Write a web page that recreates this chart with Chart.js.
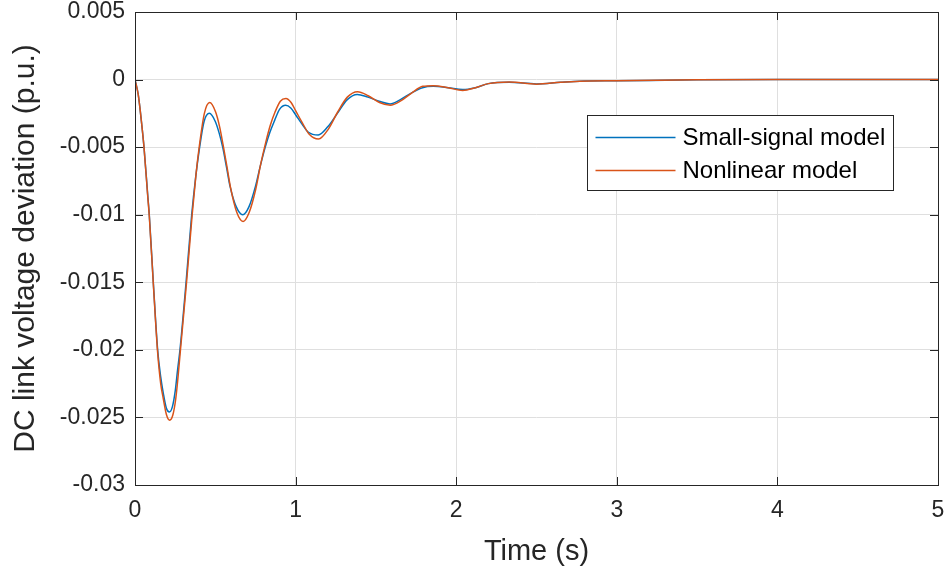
<!DOCTYPE html>
<html>
<head>
<meta charset="utf-8">
<script src="https://cdn.jsdelivr.net/npm/chart.js@4/dist/chart.umd.min.js"></script>
<style>
  html, body { margin: 0; padding: 0; background: #ffffff; }
  #wrap { width: 948px; height: 574px; }
</style>
</head>
<body>
<div id="wrap"><canvas id="c" width="948" height="574"></canvas></div>
<script>
// Time samples (s) and DC link voltage deviation (p.u.) for each model
const timeSmall = [0, 0.02, 0.04, 0.056, 0.079, 0.089, 0.114, 0.141, 0.16, 0.176, 0.195, 0.214, 0.233, 0.251, 0.265, 0.28,
  0.318, 0.353, 0.378, 0.40, 0.43, 0.463, 0.50, 0.525, 0.546, 0.57, 0.592, 0.63, 0.671, 0.71, 0.75, 0.78, 0.811, 0.84, 0.87,
  0.90, 0.938, 0.97, 1.0, 1.04, 1.08, 1.141, 1.2, 1.26, 1.32, 1.384, 1.45, 1.52, 1.588, 1.65, 1.72, 1.79, 1.857, 1.95, 2.04,
  2.12, 2.2, 2.33, 2.5, 2.65, 2.77, 3.0, 3.5, 4.0, 5.0];
const devSmall = [0, -0.0011, -0.0031, -0.005, -0.0085, -0.01, -0.015, -0.02, -0.022, -0.0232, -0.0243, -0.0246, -0.0242, -0.023, -0.0215, -0.02,
  -0.015, -0.01, -0.0072, -0.0052, -0.0031, -0.0025, -0.0031, -0.004, -0.005, -0.0065, -0.0079, -0.0094, -0.01, -0.0094, -0.0079, -0.0064, -0.005, -0.0039, -0.003,
  -0.0022, -0.0019, -0.0021, -0.0026, -0.0033, -0.0039, -0.0041, -0.0035, -0.0025, -0.0015, -0.0011, -0.0013, -0.0016, -0.0018, -0.0015, -0.001, -0.0006, -0.0005, -0.0006, -0.00074,
  -0.0006, -0.0003, -0.0002, -0.00032, -0.0002, -0.00012, -0.00009, -0.00002, 0, 0];

const timeNonlin = [0, 0.02, 0.04, 0.056, 0.079, 0.089, 0.114, 0.141, 0.16, 0.176, 0.196, 0.216, 0.236, 0.254, 0.268, 0.283,
  0.321, 0.356, 0.38, 0.402, 0.432, 0.465, 0.502, 0.527, 0.548, 0.572, 0.595, 0.633, 0.673, 0.712, 0.752, 0.782, 0.813, 0.842, 0.872,
  0.905, 0.94, 0.972, 1.0, 1.042, 1.082, 1.143, 1.202, 1.262, 1.322, 1.386, 1.452, 1.522, 1.59, 1.652, 1.722, 1.792, 1.857, 1.95, 2.04,
  2.12, 2.2, 2.33, 2.5, 2.65, 2.77, 3.0, 3.5, 4.0, 5.0];
const devNonlin = [0, -0.0011, -0.0031, -0.005, -0.0086, -0.0101, -0.0151, -0.0202, -0.0225, -0.0236, -0.0248, -0.0252, -0.0248, -0.0236, -0.022, -0.02,
  -0.015, -0.01, -0.007, -0.0048, -0.0025, -0.0017, -0.0024, -0.0035, -0.0048, -0.0064, -0.008, -0.0098, -0.0105, -0.0098, -0.0081, -0.0063, -0.0047, -0.0034, -0.0024,
  -0.0016, -0.0014, -0.0017, -0.0023, -0.0032, -0.004, -0.0044, -0.0037, -0.0024, -0.0013, -0.0009, -0.0012, -0.0017, -0.0019, -0.0016, -0.001, -0.0005, -0.00045, -0.0006, -0.0008,
  -0.0006, -0.0003, -0.00018, -0.00034, -0.0002, -0.00012, -0.00008, -0.00002, 0, 0];

const seriesNames = ['Small-signal model', 'Nonlinear model'];
const xTicks = [0, 1, 2, 3, 4, 5];
const yTicks = [0.005, 0, -0.005, -0.01, -0.015, -0.02, -0.025, -0.03];
const yTickLabels = ['0.005', '0', '-0.005', '-0.01', '-0.015', '-0.02', '-0.025', '-0.03'];

const BLUE = '#0072BD';
const ORANGE = '#D95319';
const AXIS = '#262626';
const FONT = "'Liberation Sans', Arial, Helvetica, sans-serif";

const toPoints = (xs, ys) => xs.map((x, i) => ({ x: x, y: ys[i] }));

// Axes box, inward tick marks and the in-plot legend
const framePlugin = {
  id: 'frame',
  afterDatasetsDraw(chart) {
    const { ctx, chartArea: a, scales } = chart;
    const xs = scales.x, ys = scales.y;
    const tick = 8;
    ctx.save();
    ctx.strokeStyle = AXIS;
    ctx.lineWidth = 1;
    ctx.beginPath();
    xTicks.forEach(v => {
      const px = Math.round(xs.getPixelForValue(v)) + 0.5;
      ctx.moveTo(px, a.bottom); ctx.lineTo(px, a.bottom - tick);
      ctx.moveTo(px, a.top); ctx.lineTo(px, a.top + tick);
    });
    yTicks.forEach(v => {
      const py = Math.round(ys.getPixelForValue(v)) + 0.5;
      ctx.moveTo(a.left, py); ctx.lineTo(a.left + tick, py);
      ctx.moveTo(a.right, py); ctx.lineTo(a.right - tick, py);
    });
    ctx.stroke();
    ctx.strokeRect(Math.round(a.left) + 0.5, Math.round(a.top) + 0.5,
      Math.round(a.right - a.left), Math.round(a.bottom - a.top));

    // legend
    const bx = Math.round(a.right - 351) + 0.5;
    const by = Math.round(a.top + 103) + 0.5;
    const bw = 306, bh = 75;
    ctx.fillStyle = '#ffffff';
    ctx.fillRect(bx, by, bw, bh);
    ctx.strokeStyle = AXIS;
    ctx.strokeRect(bx, by, bw, bh);
    ctx.font = '24px ' + FONT;
    ctx.textBaseline = 'middle';
    ctx.textAlign = 'left';
    chart.data.datasets.forEach((ds, i) => {
      const ly = by + 22 + i * 33;
      ctx.strokeStyle = ds.borderColor;
      ctx.lineWidth = 1.5;
      ctx.beginPath();
      ctx.moveTo(bx + 8, ly); ctx.lineTo(bx + 88, ly);
      ctx.stroke();
      ctx.fillStyle = '#000000';
      ctx.fillText(ds.label, bx + 95, ly + 1);
    });
    ctx.restore();
  }
};

new Chart(document.getElementById('c'), {
  type: 'line',
  data: {
    datasets: [
      {
        label: seriesNames[0],
        data: toPoints(timeSmall, devSmall),
        borderColor: BLUE,
        borderWidth: 1.5,
        pointRadius: 0,
        fill: false,
        cubicInterpolationMode: 'monotone',
        order: 1
      },
      {
        label: seriesNames[1],
        data: toPoints(timeNonlin, devNonlin),
        borderColor: ORANGE,
        borderWidth: 1.5,
        pointRadius: 0,
        fill: false,
        cubicInterpolationMode: 'monotone',
        order: 0
      }
    ]
  },
  options: {
    responsive: false,
    devicePixelRatio: 1,
    animation: false,
    layout: { padding: { left: 0, right: 10, top: 12, bottom: 0 } },
    plugins: { legend: { display: false }, tooltip: { enabled: false } },
    scales: {
      x: {
        type: 'linear',
        min: 0,
        max: 5,
        afterBuildTicks: s => { s.ticks = xTicks.map(v => ({ value: v })); },
        afterFit: s => { s.height = 89; s.paddingLeft = 0; s.paddingRight = 0; },
        ticks: {
          color: AXIS,
          font: { family: FONT, size: 23 },
          padding: 12,
          maxRotation: 0,
          callback: v => String(v)
        },
        grid: { color: '#dfdfdf', lineWidth: 1, drawTicks: false },
        border: { display: false },
        title: {
          display: true,
          text: 'Time (s)',
          color: AXIS,
          font: { family: FONT, size: 29 },
          padding: { top: 0, bottom: 5 }
        }
      },
      y: {
        type: 'linear',
        min: -0.03,
        max: 0.005,
        afterBuildTicks: s => { s.ticks = yTicks.map(v => ({ value: v })); },
        afterFit: s => { s.width = 135; s.paddingTop = 0; s.paddingBottom = 0; },
        ticks: {
          color: AXIS,
          font: { family: FONT, size: 23 },
          padding: 10,
          callback: function (v) {
            const i = yTicks.findIndex(t => Math.abs(t - v) < 1e-9);
            return i >= 0 ? yTickLabels[i] : '';
          }
        },
        grid: { color: '#dfdfdf', lineWidth: 1, drawTicks: false },
        border: { display: false },
        title: {
          display: true,
          text: 'DC link voltage deviation (p.u.)',
          color: AXIS,
          font: { family: FONT, size: 30 },
          padding: { top: 8, bottom: 0 }
        }
      }
    }
  },
  plugins: [framePlugin]
});
</script>
</body>
</html>
